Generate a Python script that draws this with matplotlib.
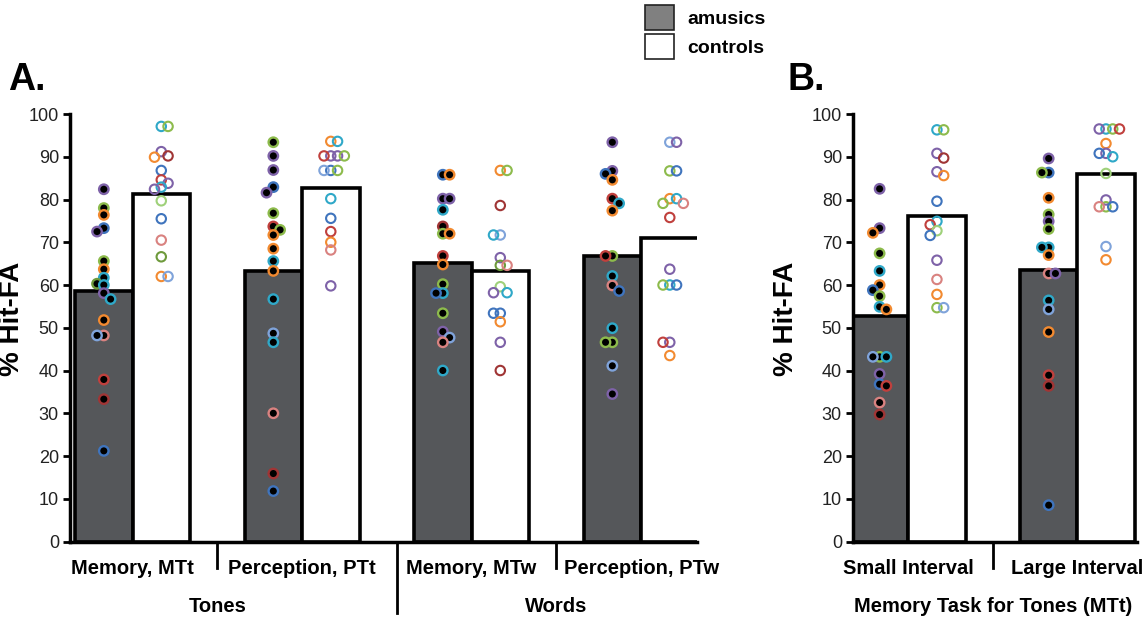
import matplotlib
matplotlib.use("Agg")
import matplotlib.pyplot as plt
from matplotlib.patches import Patch
import matplotlib.transforms as mtransforms
import numpy as np

plt.rcParams['font.family'] = ['Liberation Sans', 'DejaVu Sans']
NARROW = ['Liberation Sans Narrow', 'Liberation Sans', 'DejaVu Sans']

# office-style colours used for the individual participants
pal = {'purple': '#7E62A8', 'green': '#8DBB4C', 'orange': '#F28A30', 'blue': '#3F74BD',
       'cyan': '#2FA8C8', 'red': '#C0403D', 'pink': '#D98280', 'lightblue': '#7FA3DA',
       'darkred': '#A03535', 'lightgreen': '#9FD17A', 'darkgreen': '#6E9A3C'}

# ---- panel A data
conds_a = ['Memory, MTt', 'Perception, PTt', 'Memory, MTw', 'Perception, PTw']
groups_a = ['Tones', 'Words']
amus_mean_a = [58.6, 63.3, 65.1, 66.9]
ctrl_mean_a = [81.2, 82.8, 63.3, 70.9]

mtt_amus = [82.4, 78.0, 76.4, 73.3, 72.5, 65.6, 63.7, 61.7, 60.3, 60.0, 58.1, 56.7, 51.8, 48.2, 48.2, 37.9, 33.3, 21.2]
mtt_amus_c = ['purple', 'green', 'orange', 'blue', 'purple', 'green', 'orange', 'cyan', 'darkgreen', 'cyan', 'purple',
              'cyan', 'orange', 'pink', 'lightblue', 'red', 'darkred', 'blue']
mtt_ctrl = [97.1, 97.1, 91.2, 90.2, 89.9, 86.8, 84.6, 83.8, 82.9, 82.4, 79.7, 75.5, 70.5, 66.6, 62.0, 62.0]
mtt_ctrl_c = ['cyan', 'green', 'purple', 'darkred', 'orange', 'blue', 'red', 'purple', 'cyan', 'purple', 'lightgreen',
              'blue', 'pink', 'darkgreen', 'orange', 'lightblue']

ptt_amus = [93.4, 90.2, 86.9, 82.9, 81.6, 76.8, 73.7, 72.9, 71.7, 68.5, 65.6, 63.3, 56.7, 48.7, 46.6, 30.0, 15.9, 11.8]
ptt_amus_c = ['green', 'purple', 'purple', 'blue', 'purple', 'green', 'red', 'green', 'orange', 'orange', 'cyan',
              'orange', 'cyan', 'lightblue', 'cyan', 'pink', 'darkred', 'blue']
ptt_ctrl = [93.6, 93.6, 90.2, 90.2, 90.2, 90.2, 86.8, 86.8, 86.8, 80.2, 75.6, 72.5, 70.0, 68.2, 59.8]
ptt_ctrl_c = ['orange', 'cyan', 'purple', 'purple', 'red', 'green', 'blue', 'green', 'lightblue', 'cyan', 'blue',
              'red', 'orange', 'pink', 'purple']

mtw_amus = [85.8, 85.8, 80.2, 80.2, 77.6, 73.7, 72.0, 72.0, 66.8, 64.8, 60.2, 58.1, 58.1, 53.4, 49.1, 47.7, 46.6, 40.0]
mtw_amus_c = ['blue', 'orange', 'purple', 'purple', 'cyan', 'darkred', 'green', 'orange', 'red', 'orange', 'green',
              'cyan', 'blue', 'green', 'purple', 'lightblue', 'pink', 'cyan']
mtw_ctrl = [86.8, 86.8, 78.6, 71.7, 71.7, 66.4, 64.6, 64.6, 59.6, 58.2, 58.2, 53.4, 53.4, 51.4, 46.6, 40.0]
mtw_ctrl_c = ['orange', 'green', 'darkred', 'lightblue', 'cyan', 'purple', 'darkgreen', 'pink', 'lightgreen', 'cyan',
              'purple', 'blue', 'blue', 'orange', 'purple', 'darkred']

ptw_amus = [93.4, 86.7, 86.0, 84.6, 80.2, 79.1, 77.4, 66.8, 66.8, 62.1, 59.9, 58.6, 49.9, 46.6, 46.6, 41.1, 34.5]
ptw_amus_c = ['purple', 'purple', 'blue', 'orange', 'red', 'cyan', 'orange', 'green', 'red', 'cyan', 'pink', 'blue',
              'cyan', 'green', 'green', 'lightblue', 'purple']
ptw_ctrl = [93.4, 93.4, 86.7, 86.7, 80.2, 80.2, 79.1, 79.1, 75.8, 63.7, 60.0, 60.0, 60.0, 46.6, 46.6, 43.5]
ptw_ctrl_c = ['lightblue', 'purple', 'green', 'blue', 'orange', 'cyan', 'green', 'pink', 'red', 'purple', 'cyan',
              'blue', 'green', 'purple', 'red', 'orange']

# ---- panel B data
conds_b = ['Small Interval', 'Large Interval']
group_b = 'Memory Task for Tones (MTt)'
amus_mean_b = [52.7, 63.4]
ctrl_mean_b = [76.1, 86.0]

small_amus = [82.5, 73.3, 72.2, 67.4, 63.3, 60.0, 58.8, 57.4, 54.9, 54.3, 43.2, 43.2, 43.2, 39.2, 36.8, 36.4, 32.5, 29.7]
small_amus_c = ['purple', 'purple', 'orange', 'green', 'cyan', 'orange', 'blue', 'green', 'cyan', 'orange', 'green',
                'cyan', 'lightblue', 'purple', 'blue', 'red', 'pink', 'darkred']
small_ctrl = [96.3, 96.3, 90.8, 89.7, 86.5, 85.6, 79.6, 74.9, 74.1, 72.7, 71.6, 65.8, 61.3, 57.8, 54.7, 54.7]
small_ctrl_c = ['cyan', 'green', 'purple', 'darkred', 'purple', 'orange', 'blue', 'cyan', 'red', 'lightgreen', 'blue',
                'purple', 'pink', 'orange', 'green', 'lightblue']

large_amus = [89.6, 86.3, 86.3, 80.4, 76.5, 74.9, 73.1, 68.8, 68.8, 67.0, 62.7, 62.7, 56.4, 54.3, 49.0, 38.9, 36.4, 8.5]
large_amus_c = ['purple', 'blue', 'green', 'orange', 'green', 'purple', 'green', 'cyan', 'cyan', 'orange', 'pink',
                'purple', 'cyan', 'lightblue', 'orange', 'red', 'darkred', 'blue']
large_ctrl = [96.5, 96.5, 96.5, 96.5, 93.1, 90.8, 90.8, 90.0, 86.1, 79.9, 78.3, 78.3, 78.3, 69.0, 65.9]
large_ctrl_c = ['cyan', 'green', 'purple', 'red', 'orange', 'purple', 'blue', 'cyan', 'lightgreen', 'purple', 'green',
                'blue', 'pink', 'lightblue', 'orange']

points_a = [(mtt_amus, mtt_amus_c, mtt_ctrl, mtt_ctrl_c), (ptt_amus, ptt_amus_c, ptt_ctrl, ptt_ctrl_c),
            (mtw_amus, mtw_amus_c, mtw_ctrl, mtw_ctrl_c), (ptw_amus, ptw_amus_c, ptw_ctrl, ptw_ctrl_c)]
points_b = [(small_amus, small_amus_c, small_ctrl, small_ctrl_c), (large_amus, large_amus_c, large_ctrl, large_ctrl_c)]

W = 0.339          # bar width (group spacing = 1)
PXX, PXY = 169.5, 4.275   # pixels per data unit in x / y


def swarm(vals, step=0.04, dmin=6.5):
    # simple deterministic beeswarm, returns x offsets
    vals = np.asarray(vals)
    order = np.argsort(-vals, kind='stable')
    offs = np.zeros(len(vals))
    placed = []
    for n, i in enumerate(order):
        cands = [0, -1, 1, -2, 2, -3, 3] if n % 2 == 0 else [0, 1, -1, 2, -2, 3, -3]
        for k in cands:
            dx = k * step
            ok = all(((dx - px) * PXX) ** 2 + ((vals[i] - py) * PXY) ** 2 >= dmin ** 2 for px, py in placed)
            if ok:
                break
        offs[i] = dx
        placed.append((dx, vals[i]))
    return offs


def draw_panel(ax, amus_mean, ctrl_mean, points):
    x = np.arange(len(amus_mean))
    ax.bar(x - W / 2, amus_mean, W, color='#55575A', edgecolor='black', linewidth=2.6, zorder=2)
    ax.bar(x + W / 2, ctrl_mean, W, color='white', edgecolor='black', linewidth=2.6, zorder=2)
    for i, (av, ac, cv, cc) in enumerate(points):
        ax.scatter(x[i] - W / 2 + swarm(av), av, s=46, facecolor='black',
                   edgecolor=[pal[c] for c in ac], linewidth=1.7, zorder=4)
        ax.scatter(x[i] + W / 2 + swarm(cv), cv, s=46, facecolor='none',
                   edgecolor=[pal[c] for c in cc], linewidth=1.5, zorder=4)
    ax.set_ylim(0, 100)
    ax.set_yticks(np.arange(0, 101, 10))
    ax.set_xticks([])
    for s in ['top', 'right']:
        ax.spines[s].set_visible(False)
    ax.spines['left'].set_linewidth(2.5)
    ax.spines['bottom'].set_linewidth(2.5)
    ax.tick_params(axis='y', direction='out', length=5, width=2, pad=3, labelsize=13, labelcolor='#222222')
    for lab in ax.get_yticklabels():
        lab.set_family(NARROW)
    ax.set_ylabel('% Hit-FA', fontsize=20, fontweight='bold')


def sep_line(ax, xpos, ybot):
    tr = mtransforms.blended_transform_factory(ax.transData, ax.transAxes)
    ax.plot([xpos, xpos], [0, ybot], color='black', lw=2, transform=tr, clip_on=False)


def xlabel_text(ax, xpos, yfrac, txt):
    tr = mtransforms.blended_transform_factory(ax.transData, ax.transAxes)
    ax.text(xpos, yfrac, txt, transform=tr, ha='center', va='center', fontsize=14.5, fontweight='bold')


fig = plt.figure(figsize=(11.48, 6.19), dpi=100)
bot, hgt = 0.1252, 0.6906
axA = fig.add_axes([70 / 1148, bot, 627 / 1148, hgt])
axB = fig.add_axes([853 / 1148, bot, 284 / 1148, hgt])

draw_panel(axA, amus_mean_a, ctrl_mean_a, points_a)
axA.set_xlim(-0.369, 3.33)
axA.yaxis.set_label_coords(-0.072, 0.52)
for i, c in enumerate(conds_a):
    xlabel_text(axA, i, -0.062, c)
for j, g in enumerate(groups_a):
    xlabel_text(axA, 0.5 + 2 * j, -0.151, g)
sep_line(axA, 0.5, -0.062)
sep_line(axA, 2.5, -0.062)
sep_line(axA, 1.559, -0.167)

draw_panel(axB, amus_mean_b, ctrl_mean_b, points_b)
axB.set_xlim(-0.327, 1.353)
axB.yaxis.set_label_coords(-0.19, 0.52)
for i, c in enumerate(conds_b):
    xlabel_text(axB, i, -0.062, c)
xlabel_text(axB, 0.5, -0.151, group_b)
sep_line(axB, 0.5, -0.062)

fig.text(8 / 1148, 1 - 80 / 619, 'A.', fontsize=27, fontweight='bold', va='center', ha='left')
fig.text(787 / 1148, 1 - 80 / 619, 'B.', fontsize=27, fontweight='bold', va='center', ha='left')

handles = [Patch(facecolor='#808080', edgecolor='#222222', linewidth=1.2, label='amusics'),
           Patch(facecolor='white', edgecolor='#222222', linewidth=1.2, label='controls')]
fig.legend(handles=handles, loc='upper left', bbox_to_anchor=(628 / 1148, 1.02), frameon=False,
           prop={'weight': 'bold', 'size': 14, 'family': NARROW}, handlelength=1.45, handleheight=1.6,
           labelspacing=0.2, handletextpad=0.7)

fig.savefig('out.png', dpi=100)
